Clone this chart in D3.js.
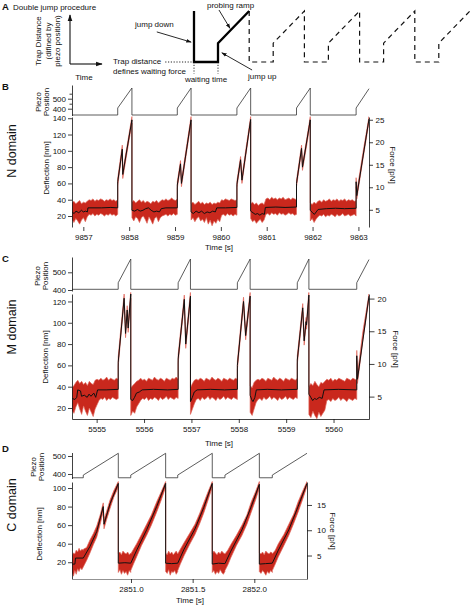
<!DOCTYPE html>
<html><head><meta charset="utf-8">
<script src="https://cdn.jsdelivr.net/npm/d3@7"></script>
<style>
body{margin:0;background:#fff}
svg{display:block}
text{font-family:"Liberation Sans",Arial,Helvetica,sans-serif;fill:#111}
</style>
</head><body>
<svg id="c" width="473" height="606"></svg>
<script>
// ---------------- DATA ----------------
// Panel A schematic (abstract units: time, trap distance)
const schemSolid = [[0,10],[0,0],[1,0],[1,3.7],[2.3,10]];
const schemDashed = [[2.3,10],[2.3,0],[3.3,0],[3.3,3.7],[4.6,10],[4.6,0],[5.6,0],[5.6,3.7],[6.9,10],[6.9,0],[7.9,0],[7.9,3.7],[9.2,10],[9.2,0],[10.2,0],[10.2,3.7],[11.5,10]];
const schemDotted = [[[-1.2,0],[0,0]],[[0,0],[0,-2.3]],[[1,0],[1,-2.3]]];

// Panel B (N domain)
const bTimeTicks = [9857,9858,9859,9860,9861,9862,9863];
const bDeflTicks = [20,40,60,80,100,120,140];
const bForceTicks = [5,10,15,20,25];
const bPiezoTicks = [400,500];
const bPiezoMinor = [450,550];
const bStiffness = 0.181;
const bPiezo = [[9856.753,337],[9857.75,337],[9857.75,407],[9858.06,607],[9858.06,337],[9859.05,337],[9859.05,407],[9859.35,607],[9859.35,337],[9860.35,337],[9860.35,407],[9860.65,607],[9860.65,337],[9861.65,337],[9861.65,407],[9861.95,607],[9861.95,337],[9862.95,337],[9862.95,407],[9863.231,600]];
const bNoise = [
 [9856.753,9857.75,[16,12,17,14,10,15,18,13,19,22,21,23,20,22,21,23,22,20,22,21,23,21,22,20,22],[36,38,35,37,39,35,37,36,38,40,39,41,38,40,39,41,40,38,40,39,41,39,40,38,40]],
 [9858.06,9859.05,[18,14,19,17,12,18,20,16,11,19,15,10,17,19,13,18,20,21,22,20,22,21,23,21,22],[37,39,36,38,40,37,39,36,38,37,35,38,37,39,36,38,40,39,41,39,40,42,40,39,41]],
 [9859.35,9860.35,[15,18,13,17,19,14,16,12,18,10,15,8,14,11,16,13,21,22,20,23,21,22,20,22,21],[35,37,34,36,38,35,37,34,36,35,37,34,36,35,37,36,40,39,41,40,39,41,40,39,40]],
 [9860.65,9861.65,[17,13,15,11,14,16,12,15,22,23,21,24,22,23,21,24,22,23,21,22,24,22,23,21,22],[35,37,34,36,33,35,36,34,41,42,40,43,41,42,40,42,41,43,40,41,42,40,42,41,40]],
 [9861.95,9862.95,[14,17,12,16,19,21,20,22,19,21,20,22,21,19,22,20,21,23,20,21,22,20,21,22,20],[36,34,37,35,38,39,37,40,38,39,41,38,40,39,41,38,40,39,41,38,40,39,40,38,39]]
];
const bRamps = [
 [[9857.75,57,66],[9857.80,78,87],[9857.85,98,107],[9857.86,66,75],[9857.96,100,108],[9858.06,134,142]],
 [[9859.05,54,62],[9859.12,80,88],[9859.14,56,64],[9859.25,97,105],[9859.35,134,142]],
 [[9860.35,55,63],[9860.43,85,93],[9860.46,60,68],[9860.55,96,104],[9860.65,135,142]],
 [[9861.65,56,64],[9861.76,99,107],[9861.78,76,84],[9861.87,106,114],[9861.95,134,142]],
 [[9862.95,56,67],[9862.965,41,50],[9863.10,90,98],[9863.231,135,142]]
];
const bMean = [[9856.753,25],[9856.80,23],[9856.84,26],[9856.90,24],[9856.96,27],[9857.00,25],[9857.05,26],[9857.09,25],[9857.10,30],[9857.40,30],[9857.60,30.5],[9857.75,30],
 [9857.75,62],[9857.85,102],[9857.86,71],[9858.06,138],
 [9858.06,27],[9858.12,26],[9858.18,28],[9858.24,26],[9858.30,27],[9858.36,29],[9858.42,30],[9858.48,27],[9858.54,25],[9858.60,26],[9858.66,25],[9858.70,29],[9858.80,30],[9859.05,30],
 [9859.05,58],[9859.12,84],[9859.14,60],[9859.35,138],
 [9859.35,25],[9859.40,23],[9859.46,26],[9859.52,24],[9859.58,26],[9859.64,23],[9859.70,25],[9859.76,24],[9859.82,26],[9859.88,25],[9859.91,30],[9860.10,30],[9860.35,30.5],
 [9860.35,59],[9860.43,89],[9860.46,64],[9860.65,138.5],
 [9860.65,26],[9860.70,24],[9860.75,22],[9860.80,23],[9860.85,21],[9860.90,23],[9860.95,22],[9860.97,30.5],[9861.20,31],[9861.40,30.5],[9861.65,31],
 [9861.65,60],[9861.76,103],[9861.78,80],[9861.95,138],
 [9861.95,27],[9862.00,24],[9862.04,22],[9862.08,25],[9862.12,28],[9862.30,29],[9862.50,29.5],[9862.70,29],[9862.95,29.5],
 [9862.95,62],[9862.965,45],[9863.231,139]];

// Panel C (M domain)
const cTimeTicks = [5555,5556,5557,5558,5559,5560];
const cDeflTicks = [20,40,60,80,100,120];
const cForceTicks = [5,10,15,20];
const cPiezoTicks = [400,500];
const cStiffness = 0.163;
const cPiezo = [[5554.48,404],[5555.455,404],[5555.455,441],[5555.72,575],[5555.72,404],[5556.72,404],[5556.72,441],[5556.98,575],[5556.98,404],[5557.97,404],[5557.97,441],[5558.24,575],[5558.24,404],[5559.235,404],[5559.235,441],[5559.48,575],[5559.48,404],[5560.49,404],[5560.49,441],[5560.7485,572]];
const cNoise = [
 [5554.48,5555.455,[18,15,21,25,19,14,22,17,13,20,16,12,19,23,27,29,28,30,27,29,28,30,29,28,29],[39,41,44,46,43,45,42,44,41,45,43,42,46,47,46,48,46,47,49,46,48,47,46,48,47]],
 [5555.72,5556.72,[13,17,15,21,24,27,29,28,30,27,29,28,30,29,27,30,28,29,31,28,30,29,28,30,29],[39,41,43,45,46,48,46,47,45,48,47,46,49,47,46,48,47,45,48,47,46,48,47,49,47]],
 [5556.98,5557.97,[14,19,24,28,29,27,30,28,29,31,28,30,29,27,30,28,29,31,28,30,29,28,30,29,28],[39,43,46,47,46,48,47,45,48,47,46,49,47,46,48,47,45,48,47,46,48,47,46,48,47]],
 [5558.24,5559.235,[16,13,19,25,28,29,27,30,28,29,31,28,30,29,27,30,28,29,31,28,30,29,28,30,29],[41,39,44,46,47,46,48,47,45,48,47,46,49,47,46,48,47,45,48,47,46,48,47,46,48]],
 [5559.48,5560.49,[14,11,17,13,10,16,12,15,18,27,28,26,29,27,28,30,27,29,28,26,29,28,27,29,28],[40,43,41,45,42,40,44,43,45,47,46,48,45,47,46,48,47,46,45,48,47,46,48,47,46]]
];
const cRamps = [
 [[5555.455,59,68],[5555.52,91,99],[5555.58,119,127],[5555.61,86,94],[5555.645,108,116],[5555.665,91,99],[5555.72,123,130]],
 [[5556.72,62,70],[5556.85,118,126],[5556.88,76,84],[5556.98,121,129]],
 [[5557.97,56,64],[5558.10,116,124],[5558.145,84,92],[5558.24,121,129]],
 [[5559.235,61,69],[5559.35,110,118],[5559.38,79,87],[5559.42,97,105],[5559.43,94,102],[5559.48,122,130]],
 [[5560.49,64,74],[5560.505,43,52],[5560.62,84,92],[5560.7485,122,127]]
];
const cMean = [[5554.48,29],[5554.54,28],[5554.58,30],[5554.60,37],[5554.66,36],[5554.68,31],[5554.74,32],[5554.80,30],[5554.84,33],[5554.88,31],[5554.94,34],[5554.98,30],[5555.02,37],[5555.20,37],[5555.455,37.5],
 [5555.455,63],[5555.58,123],[5555.61,90],[5555.645,112],[5555.665,95],[5555.72,127],
 [5555.72,28],[5555.76,27],[5555.80,30],[5555.84,34],[5555.90,35],[5555.96,37],[5556.20,37.5],[5556.50,37],[5556.72,37.5],
 [5556.72,66],[5556.85,122],[5556.88,80],[5556.98,125],
 [5556.98,26],[5557.02,30],[5557.06,35],[5557.12,37],[5557.40,37.5],[5557.70,37],[5557.97,37.5],
 [5557.97,60],[5558.10,120],[5558.145,88],[5558.24,125],
 [5558.24,32],[5558.27,28],[5558.30,26],[5558.34,30],[5558.37,37],[5558.60,37.5],[5558.90,37],[5559.235,37.5],
 [5559.235,65],[5559.35,114],[5559.38,83],[5559.42,101],[5559.43,98],[5559.48,126],
 [5559.48,33],[5559.52,30],[5559.56,27],[5559.60,29],[5559.64,28],[5559.70,30],[5559.76,29],[5559.80,37],[5560.10,37.5],[5560.49,37],
 [5560.49,69],[5560.505,47],[5560.7485,125]];

// Panel D (C domain)
const dTimeTicks = [2851.0,2851.5,2852.0];
const dDeflTicks = [20,40,60,80,100];
const dForceTicks = [5,10,15];
const dPiezoTicks = [400,500];
const dStiffness = 0.1835;
const dPiezo = [[2850.5215,379],[2850.613,379],[2850.613,394],[2850.897,515],[2850.897,379],[2850.998,379],[2850.998,394],[2851.281,515],[2851.281,379],[2851.379,379],[2851.379,394],[2851.659,515],[2851.659,379],[2851.762,379],[2851.762,394],[2852.041,515],[2852.041,379],[2852.146,379],[2852.146,394],[2852.4274,515]];
const dNoise = [
 [2850.5215,2850.613,[9,5,11,7,13,10,14,12,15],[27,30,29,33,31,35,32,34,33]],
 [2850.897,2850.998,[9,12,7,11,8,10,6,11,9],[29,31,28,32,30,29,31,28,30]],
 [2851.281,2851.379,[10,8,12,6,10,9,11,7,10],[30,28,32,29,31,28,30,32,29]],
 [2851.659,2851.762,[9,11,7,10,8,12,9,7,10],[29,32,30,28,31,29,32,30,29]],
 [2852.041,2852.146,[10,8,11,9,6,10,8,11,9],[30,29,31,28,32,30,29,31,30]]
];
const dRamps = [
 [[2850.613,15,34],[2850.64,22,36],[2850.667,30,44],[2850.695,39,51],[2850.722,47,59],[2850.75,61,71],[2850.775,75,84],[2850.781,56,66],[2850.80,65,74],[2850.83,78,87],[2850.86,90,97],[2850.897,101,107]],
 [[2850.998,11,29],[2851.02,18,34],[2851.046,26,40],[2851.085,38,50],[2851.127,49,61],[2851.165,60,71],[2851.208,74,85],[2851.245,87,96],[2851.281,101,107]],
 [[2851.379,11,29],[2851.40,18,34],[2851.43,27,41],[2851.475,39,51],[2851.519,50,61],[2851.555,61,72],[2851.59,73,84],[2851.625,87,96],[2851.659,101,107]],
 [[2851.762,11,29],[2851.785,17,33],[2851.81,25,39],[2851.855,38,49],[2851.90,49,60],[2851.94,61,71],[2851.975,74,85],[2852.01,87,96],[2852.041,100,107]],
 [[2852.146,11,29],[2852.17,18,33],[2852.195,26,40],[2852.24,38,50],[2852.28,49,61],[2852.32,62,72],[2852.355,74,85],[2852.39,87,96],[2852.4274,102,107]]
];
const dMean = [[2850.5215,18],[2850.545,18],[2850.55,24.5],[2850.613,24.5],[2850.667,37],[2850.722,53],[2850.775,80],[2850.781,61],[2850.83,83],[2850.897,105],
 [2850.897,19],[2850.95,19.5],[2850.998,19],[2851.046,33],[2851.127,55],[2851.208,80],[2851.281,105],
 [2851.281,19],[2851.33,18.5],[2851.379,19],[2851.43,34],[2851.519,56],[2851.59,79],[2851.659,105],
 [2851.659,18],[2851.71,19],[2851.762,18.5],[2851.81,32],[2851.90,55],[2851.975,80],[2852.041,104],
 [2852.041,18],[2852.09,18.5],[2852.146,19],[2852.195,33],[2852.28,55],[2852.355,80],[2852.4274,105]];

// ---------------- DRAWING ----------------
const svg = d3.select("#c");
const defs = svg.append("defs");
defs.append("marker").attr("id","ah").attr("viewBox","0 0 10 10").attr("refX",9).attr("refY",5)
  .attr("markerWidth",6).attr("markerHeight",6).attr("orient","auto-start-reverse")
  .append("path").attr("d","M0,1.5L10,5L0,8.5Z").attr("fill","#111");

function txt(x,y,s,size,opt){
  opt=opt||{};
  const t=svg.append("text").attr("x",x).attr("y",y).text(s).style("font-size",size+"px");
  if(opt.anchor) t.attr("text-anchor",opt.anchor);
  if(opt.bold) t.style("font-weight","bold");
  if(opt.rot!==undefined) t.attr("transform",`rotate(${opt.rot},${x},${y})`);
  return t;
}

// ---- Panel A ----
txt(2,10,"A",9.5,{bold:true});
txt(13,9.5,"Double jump procedure",8);
svg.append("line").attr("x1",70).attr("y1",64).attr("x2",70).attr("y2",15).attr("stroke","#111").attr("stroke-width",1.1).attr("marker-end","url(#ah)");
svg.append("line").attr("x1",70).attr("y1",64).attr("x2",102).attr("y2",64).attr("stroke","#111").attr("stroke-width",1.1).attr("marker-end","url(#ah)");
txt(41,41,"Trap Distance",8,{anchor:"middle",rot:-90});
txt(50.5,41,"(difined by",8,{anchor:"middle",rot:-90});
txt(60,41,"piezo position)",8,{anchor:"middle",rot:-90});
txt(84,80,"Time",8,{anchor:"middle"});

const sx = d3.scaleLinear().domain([0,11.5]).range([194,470]);
const sy = d3.scaleLinear().domain([0,10]).range([62,11]);
const sline = d3.line().x(d=>sx(d[0])).y(d=>sy(d[1]));
svg.append("path").datum(schemSolid).attr("d",sline).attr("fill","none").attr("stroke","#000").attr("stroke-width",2.3).attr("stroke-linejoin","miter");
svg.append("path").datum(schemDashed).attr("d",sline).attr("fill","none").attr("stroke","#111").attr("stroke-width",1.2).attr("stroke-dasharray","5,4");
schemDotted.forEach(s=>svg.append("path").datum(s).attr("d",sline).attr("fill","none").attr("stroke","#111").attr("stroke-width",0.9).attr("stroke-dasharray","1.2,1.6"));
function sarrow(a,b){
  svg.append("line").attr("x1",sx(a[0])).attr("y1",sy(a[1])).attr("x2",sx(b[0])).attr("y2",sy(b[1]))
   .attr("stroke","#111").attr("stroke-width",0.9).attr("marker-end","url(#ah)");
}
sarrow([-1.55,5.9],[-0.12,3.9]);
sarrow([1.04,10.2],[1.5,6.6]);
sarrow([2.42,-1.57],[1.16,1.8]);
txt(135,27,"jump down",8);
txt(207,7.5,"probing ramp",8);
txt(248,79,"jump up",8);
txt(113,64,"Trap distance",8);
txt(113,73.5,"defines waiting force",8);
txt(206,82,"waiting time",8,{anchor:"middle"});

// ---- data panels ----
function styleAxis(g,size){
  g.selectAll("path.domain").attr("stroke","#111").attr("stroke-width",0.8);
  g.selectAll(".tick line").attr("stroke","#111").attr("stroke-width",0.8);
  g.selectAll(".tick text").style("font-size",size+"px").style("font-family",'"Liberation Sans",Arial,sans-serif').attr("fill","#111");
}

function panel(o){
  const x = d3.scaleLinear().domain(o.tDomain).range([o.x0,o.x1]);
  const yP = d3.scaleLinear().domain(o.pDomain).range([o.pBot,o.pTop]);
  const yD = d3.scaleLinear().domain(o.dDomain).range([o.dBot,o.dTop]);
  const yF = d3.scaleLinear().domain(o.dDomain.map(v=>v*o.k)).range([o.dBot,o.dTop]);
  const cid = "clip"+o.id;
  defs.append("clipPath").attr("id",cid).append("rect").attr("x",o.x0).attr("y",o.dTop-1.5)
    .attr("width",o.x1-o.x0).attr("height",o.dBot-o.dTop+1.5);
  const band = [];
  o.noise.forEach((s,i)=>{
    const [t0,t1,lo,hi]=s;
    lo.forEach((l,j)=>band.push([t0+(t1-t0)*j/(lo.length-1),l,hi[j]]));
    o.ramps[i].forEach(r=>band.push(r));
  });
  const g = svg.append("g");
  const pg = g.append("g").attr("clip-path",`url(#${cid})`);
  pg.append("path").datum(band)
    .attr("d",d3.area().x(d=>x(d[0])).y0(d=>yD(d[1])).y1(d=>yD(d[2])))
    .attr("fill","#c9281d").attr("stroke","#e0665a").attr("stroke-width",0.7).attr("stroke-linejoin","round");
  pg.append("path").datum(o.mean)
    .attr("d",d3.line().x(d=>x(d[0])).y(d=>yD(d[1])))
    .attr("fill","none").attr("stroke","#111").attr("stroke-width",1);
  g.append("path").datum(o.piezo)
    .attr("d",d3.line().x(d=>x(d[0])).y(d=>yP(d[1])))
    .attr("fill","none").attr("stroke","#333").attr("stroke-width",0.8);

  const ap = g.append("g").attr("transform",`translate(${o.x0},0)`)
    .call(d3.axisLeft(yP).tickValues(o.pTicks).tickSize(4).tickSizeOuter(0).tickPadding(2));
  styleAxis(ap,8);
  if(o.pMinor){
    const am = g.append("g").attr("transform",`translate(${o.x0},0)`)
      .call(d3.axisLeft(yP).tickValues(o.pMinor).tickSize(2.5).tickSizeOuter(0).tickFormat(""));
    styleAxis(am,8); am.select("path.domain").remove();
  }
  const ad = g.append("g").attr("transform",`translate(${o.x0},0)`)
    .call(d3.axisLeft(yD).tickValues(o.dTicks).tickSize(4).tickSizeOuter(0).tickPadding(2));
  styleAxis(ad,8);
  const af = g.append("g").attr("transform",`translate(${o.x1},0)`)
    .call(d3.axisRight(yF).tickValues(o.fTicks).tickSize(o.fTick).tickSizeOuter(0).tickPadding(o.fPad));
  styleAxis(af,8);
  const ax = g.append("g").attr("transform",`translate(0,${o.dBot})`)
    .call(d3.axisBottom(x).tickValues(o.tTicks).tickSize(4).tickSizeOuter(0).tickPadding(3).tickFormat(d3.format(o.tFmt)));
  styleAxis(ax,8);
  if(!o.xLine) ax.select("path.domain").remove();
  else ax.select("path.domain").attr("stroke",o.xLine);

  txt(2,o.letterY,o.letter,9.5,{bold:true});
  txt(16,o.domY,o.domain,12.5,{anchor:"middle",rot:-90});
  txt(o.pzX,o.pzY,"Piezo",8,{anchor:"middle",rot:-90});
  txt(o.pzX+8,o.pzY,"Position",8,{anchor:"middle",rot:-90});
  txt(o.dlX,o.dlY,"Deflection [nm]",8,{anchor:"middle",rot:-90});
  txt(o.flX,o.flY,"Force [pN]",8,{anchor:"middle",rot:90});
  txt(o.tlX,o.tlY,"Time [s]",8,{anchor:"middle"});
}

panel({id:"B",letter:"B",letterY:90,domain:"N domain",domY:151,
  tDomain:[9856.753,9863.231],x0:72,x1:369,
  pDomain:[332,637],pBot:115.5,pTop:85,pTicks:bPiezoTicks,pMinor:bPiezoMinor,
  dDomain:[6.5,141.5],dBot:227,dTop:117,k:bStiffness,
  dTicks:bDeflTicks,fTicks:bForceTicks,fTick:4,fPad:2.5,tTicks:bTimeTicks,tFmt:"d",xLine:null,
  piezo:bPiezo,noise:bNoise,ramps:bRamps,mean:bMean,
  pzX:40.5,pzY:102,dlX:49,dlY:168,flX:390,flY:165,tlX:219,tlY:250});

panel({id:"C",letter:"C",letterY:262,domain:"M domain",domY:327,
  tDomain:[5554.4796,5560.7485],x0:72,x1:369,
  pDomain:[394.4,586.4],pBot:291,pTop:257,pTicks:cPiezoTicks,pMinor:null,
  dDomain:[9.67,127],dBot:419,dTop:294,k:cStiffness,
  dTicks:cDeflTicks,fTicks:cForceTicks,fTick:5.5,fPad:3,tTicks:cTimeTicks,tFmt:"d",xLine:"#111",
  piezo:cPiezo,noise:cNoise,ramps:cRamps,mean:cMean,
  pzX:40,pzY:276,dlX:48,dlY:357,flX:392.5,flY:349,tlX:219,tlY:446});

panel({id:"D",letter:"D",letterY:452,domain:"C domain",domY:505,
  tDomain:[2850.5215,2852.4274],x0:72,x1:307,
  pDomain:[375,519.4],pBot:478.5,pTop:452.5,pTicks:dPiezoTicks,pMinor:null,
  dDomain:[1.94,106.5],dBot:579,dTop:482,k:dStiffness,
  dTicks:dDeflTicks,fTicks:dForceTicks,fTick:5,fPad:5,tTicks:dTimeTicks,tFmt:".1f",xLine:"#777",
  piezo:dPiezo,noise:dNoise,ramps:dRamps,mean:dMean,
  pzX:36,pzY:467,dlX:42,dlY:534,flX:330,flY:531,tlX:190,tlY:603});
</script>
</body></html>
